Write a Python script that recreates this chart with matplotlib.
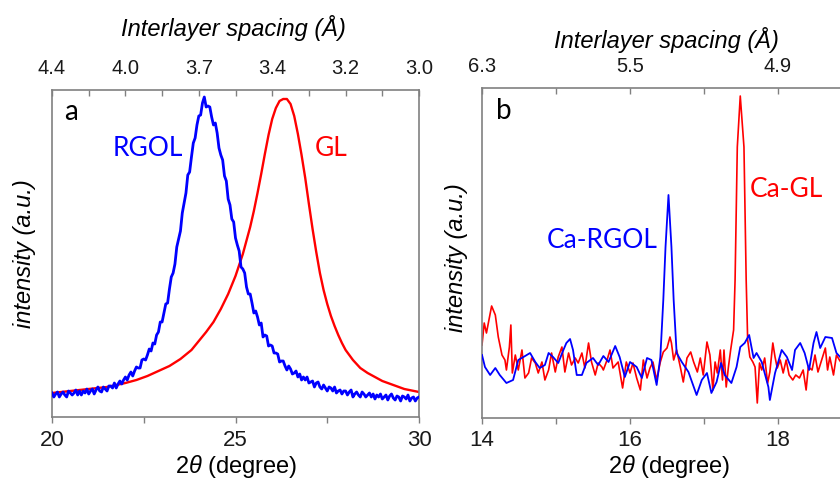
import matplotlib
matplotlib.use("Agg")
import matplotlib.pyplot as plt
import numpy as np

plt.rcParams['font.family'] = ['Liberation Sans', 'DejaVu Sans']
plt.rcParams['mathtext.fontset'] = 'custom'
plt.rcParams['mathtext.rm'] = 'Liberation Sans'
plt.rcParams['mathtext.it'] = 'Liberation Sans:italic'

# ---- panel a : RGOL / GL (2theta, intensity a.u.) ----
# RGOL scan on a 0.05 deg step grid
tt_rgol = np.round(np.arange(20.0, 30.0001, 0.05), 2)
i_rgol = [24, 20, 23, 25, 20, 23, 25, 22, 20, 26,
          24, 22, 24, 27, 22, 26, 22, 26, 24, 28,
          23, 26, 28, 23, 27, 30, 26, 25, 30, 28,
          26, 31, 31, 29, 34, 29, 33, 36, 33, 37,
          40, 37, 42, 45, 41, 46, 50, 49, 49, 57,
          58, 57, 62, 68, 66, 74, 73, 82, 85, 95,
          95, 104, 113, 114, 128, 140, 144, 153, 170, 178,
          186, 204, 214, 224, 242, 245, 260, 274, 279, 292,
          301, 302, 314, 320, 310, 311, 310, 300, 292, 294,
          284, 269, 262, 257, 241, 236, 218, 212, 198, 195,
          179, 172, 166, 150, 148, 144, 130, 123, 123, 114,
          104, 106, 100, 92, 94, 80, 82, 81, 71, 72,
          71, 64, 64, 63, 55, 56, 56, 51, 47, 51,
          48, 43, 44, 46, 40, 43, 37, 40, 37, 40,
          34, 35, 36, 30, 34, 35, 30, 28, 32, 29,
          26, 30, 29, 26, 30, 24, 26, 27, 23, 26,
          26, 22, 25, 27, 20, 23, 25, 22, 20, 25,
          23, 20, 22, 24, 20, 23, 18, 22, 20, 23,
          18, 20, 22, 17, 21, 23, 19, 17, 21, 20,
          16, 21, 20, 18, 22, 16, 19, 20, 16, 19, 20]

tt_gl = [20.0, 20.5, 21.0, 21.5, 22.0, 22.3, 22.6, 22.9, 23.2, 23.5,
         23.8, 24.0, 24.2, 24.4, 24.6, 24.8, 25.0, 25.2, 25.4, 25.5,
         25.6, 25.7, 25.8, 25.9, 26.0, 26.1, 26.2, 26.3, 26.4, 26.5,
         26.6, 26.7, 26.8, 26.9, 27.0, 27.1, 27.2, 27.3, 27.4, 27.5,
         27.6, 27.7, 27.8, 27.9, 28.0, 28.2, 28.4, 28.6, 28.8, 29.0,
         29.3, 29.6, 30.0]
i_gl = [24, 26, 28, 30, 34, 37, 41, 46, 51, 58,
        67, 76, 85, 95, 108, 123, 141, 163, 190, 206,
        224, 243, 263, 282, 298, 309, 316, 318, 318, 313,
        301, 283, 262, 239, 213, 188, 165, 144, 127, 113,
        101, 91, 82, 74, 67, 57, 49, 44, 40, 36,
        32, 28, 25]

# ---- panel b : Ca-RGOL / Ca-GL ----
tt_ca_rgol = [14.00, 14.04, 14.11, 14.18, 14.24, 14.33, 14.42, 14.49, 14.56, 14.65,
              14.72, 14.78, 14.85, 14.90, 14.96, 15.03, 15.10, 15.14, 15.19, 15.23,
              15.28, 15.35, 15.41, 15.50, 15.57, 15.64, 15.71, 15.80, 15.86, 15.93,
              16.00, 16.09, 16.16, 16.23, 16.29, 16.36, 16.41, 16.45, 16.48, 16.52,
              16.56, 16.59, 16.63, 16.70, 16.79, 16.90, 16.97, 17.04, 17.10, 17.17,
              17.23, 17.28, 17.37, 17.44, 17.49, 17.55, 17.61, 17.67, 17.71, 17.78,
              17.87, 17.89, 17.96, 18.05, 18.12, 18.19, 18.23, 18.30, 18.36, 18.42,
              18.48, 18.52, 18.57, 18.64, 18.73, 18.79, 18.84, 18.90]
i_ca_rgol = [63, 51, 43, 50, 43, 35, 38, 58, 61, 65,
             56, 50, 53, 65, 61, 55, 68, 75, 79, 68,
             43, 43, 55, 60, 53, 62, 56, 72, 61, 41,
             56, 51, 40, 60, 58, 33, 61, 118, 171, 223,
             171, 118, 65, 56, 46, 23, 38, 45, 25, 36,
             55, 43, 35, 51, 71, 75, 83, 60, 65, 56,
             31, 18, 45, 68, 61, 48, 68, 75, 65, 48,
             75, 86, 70, 81, 80, 65, 61, 58]

tt_ca_gl = [14.00, 14.03, 14.06, 14.13, 14.18, 14.22, 14.27, 14.31, 14.33, 14.37,
            14.39, 14.41, 14.45, 14.49, 14.54, 14.58, 14.63, 14.67, 14.72, 14.76,
            14.81, 14.85, 14.90, 14.94, 14.99, 15.03, 15.08, 15.12, 15.17, 15.21,
            15.26, 15.30, 15.35, 15.39, 15.44, 15.48, 15.53, 15.57, 15.62, 15.64,
            15.69, 15.73, 15.77, 15.84, 15.90, 15.95, 16.00, 16.04, 16.09, 16.14,
            16.18, 16.23, 16.27, 16.31, 16.36, 16.41, 16.45, 16.50, 16.54, 16.56,
            16.59, 16.63, 16.68, 16.72, 16.77, 16.82, 16.86, 16.91, 16.95, 16.99,
            17.04, 17.08, 17.12, 17.15, 17.18, 17.22, 17.25, 17.27, 17.30, 17.33,
            17.36, 17.40, 17.42, 17.45, 17.49, 17.54, 17.57, 17.59, 17.62, 17.66,
            17.69, 17.72, 17.75, 17.78, 17.82, 17.86, 17.89, 17.93, 17.96, 17.99,
            18.03, 18.07, 18.11, 18.15, 18.20, 18.24, 18.29, 18.34, 18.38, 18.41,
            18.46, 18.50, 18.54, 18.59, 18.64, 18.67, 18.70, 18.75, 18.79, 18.83, 18.90]
i_ca_gl = [73, 95, 85, 112, 103, 81, 63, 58, 48, 71,
           93, 45, 63, 48, 68, 40, 45, 60, 55, 45,
           56, 38, 48, 65, 46, 61, 71, 46, 65, 53,
           60, 55, 65, 50, 75, 56, 43, 55, 51, 48,
           58, 68, 50, 56, 30, 56, 45, 55, 40, 28,
           58, 40, 50, 56, 38, 56, 66, 70, 81, 75,
           58, 68, 51, 36, 60, 66, 56, 46, 60, 43,
           76, 63, 28, 56, 45, 68, 38, 68, 31, 51,
           68, 88, 138, 271, 322, 271, 138, 78, 61, 56,
           51, 15, 55, 48, 60, 35, 46, 75, 61, 50,
           58, 45, 58, 43, 38, 43, 40, 48, 28, 51,
           48, 63, 46, 58, 70, 48, 61, 43, 63, 58, 50]

# top axis: d-spacing labels placed at 2theta positions
top_a_pos = [20, 22, 24, 26, 28, 30]
top_a_lab = ["4.4", "4.0", "3.7", "3.4", "3.2", "3.0"]
top_b_pos = [14, 16, 18]
top_b_lab = ["6.3", "5.5", "4.9"]

BLUE = "#0000ff"
RED = "#ff0000"
GREY = "#808080"

fig = plt.figure(figsize=(8.4, 4.79), dpi=100)
W, H = 840, 479


def px(x0, y0, x1, y1):
    return [x0 / W, 1 - y1 / H, (x1 - x0) / W, (y1 - y0) / H]


ax_a = fig.add_axes(px(52, 90, 419, 417))
ax_b = fig.add_axes(px(482, 88, 926, 418))


def style(ax, xlim, ylim, major, minor, top_pos, top_lab):
    ax.set_xlim(*xlim)
    ax.set_ylim(*ylim)
    ax.set_yticks([])
    ax.set_xticks(major)
    ax.set_xticks(minor, minor=True)
    for s in ax.spines.values():
        s.set_color(GREY)
        s.set_linewidth(1.2)
    ax.tick_params(axis='x', which='both', direction='out', color=GREY, width=1.0,
                   length=4, labelsize=16, labelcolor='#1a1a1a', pad=5)
    top = ax.twiny()
    top.set_xlim(*xlim)
    top.set_xticks(top_pos)
    top.set_xticklabels(top_lab)
    top.set_xticks(np.arange(xlim[0], xlim[1] + 0.5, 1.0), minor=True)
    for s in top.spines.values():
        s.set_visible(False)
    top.tick_params(axis='x', which='both', direction='in', color=GREY, width=1.0,
                    length=4, labelsize=14.5, labelcolor='#1a1a1a', pad=9)
    return top


style(ax_a, (20, 30), (0, 327), [20, 25, 30], [22.5, 27.5], top_a_pos, top_a_lab)
style(ax_b, (14, 20), (0, 330), [14, 16, 18], [15, 17, 19], top_b_pos, top_b_lab)

ax_a.plot(tt_gl, i_gl, color=RED, lw=1.7, zorder=2)
ax_a.plot(tt_rgol, i_rgol, color=BLUE, lw=2.0, zorder=3)

ax_b.plot(tt_ca_gl, i_ca_gl, color=RED, lw=1.2, zorder=2)
ax_b.plot(tt_ca_rgol, i_ca_rgol, color=BLUE, lw=1.3, zorder=3)

lab_font = dict(family=['Lato', 'DejaVu Sans'])
fig.text(71 / W, 1 - 112 / H, "a", fontsize=20, ha='center', va='center', **lab_font)
fig.text(504 / W, 1 - 111 / H, "b", fontsize=20, ha='center', va='center', **lab_font)
fig.text(148 / W, 1 - 148 / H, "RGOL", fontsize=19, color=BLUE, ha='center', va='center', **lab_font)
fig.text(331 / W, 1 - 148 / H, "GL", fontsize=19, color=RED, ha='center', va='center', **lab_font)
fig.text(602 / W, 1 - 240 / H, "Ca-RGOL", fontsize=19, color=BLUE, ha='center', va='center', **lab_font)
fig.text(786 / W, 1 - 190 / H, "Ca-GL", fontsize=19, color=RED, ha='center', va='center', **lab_font)

# axis titles
fig.text(233 / W, 1 - 28 / H, "Interlayer spacing (Å)", fontsize=17, style='italic',
         ha='center', va='center')
fig.text(666 / W, 1 - 40 / H, "Interlayer spacing (Å)", fontsize=17, style='italic',
         ha='center', va='center')
fig.text(236 / W, 1 - 467 / H, r"$\mathit{2\theta}$ (degree)", fontsize=17,
         ha='center', va='center')
fig.text(669 / W, 1 - 467 / H, r"$\mathit{2\theta}$ (degree)", fontsize=17,
         ha='center', va='center')
fig.text(25 / W, 1 - 254 / H, "intensity (a.u.)", fontsize=17, style='italic',
         rotation=90, ha='center', va='center')
fig.text(457 / W, 1 - 258 / H, "intensity (a.u.)", fontsize=17, style='italic',
         rotation=90, ha='center', va='center')

fig.savefig("out.png", dpi=100)
